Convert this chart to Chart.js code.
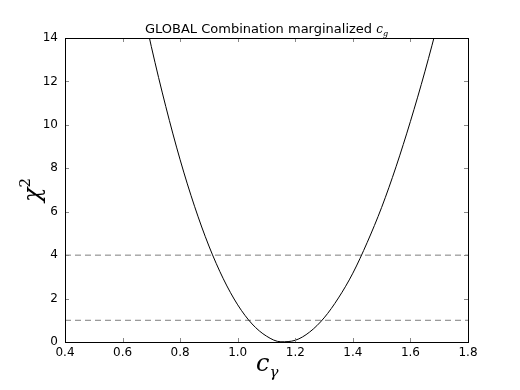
<!DOCTYPE html>
<html>
<head>
<meta charset="utf-8">
<script src="https://cdn.jsdelivr.net/npm/chart.js@4/dist/chart.umd.min.js"></script>
<style>
  body { margin: 0; background: #fff; }
</style>
</head>
<body>
<canvas id="chi2Chart" width="520" height="390"></canvas>
<script>
// profile scan of chi2 vs c_gamma
const cgValues   = [0.65, 0.70, 0.75, 0.80, 0.85, 0.90, 0.95, 1.00, 1.05, 1.10, 1.15, 1.20, 1.25, 1.30, 1.35, 1.40, 1.45, 1.50, 1.55, 1.60, 1.65, 1.70];
const chi2Values = [16.7, 13.6, 10.85, 8.39, 6.25, 4.42, 2.91, 1.71, 0.83, 0.27, 0.01, 0.08, 0.46, 1.11, 2.03, 3.17, 4.59, 6.2, 8.07, 10.16, 12.44, 14.92];
const sigmaLevels = [1, 4];
const xRange = [0.4, 1.8];
const yRange = [0, 14];

const curve = cgValues.map((c, i) => ({x: c, y: chi2Values[i]}));
const levelSets = sigmaLevels.map(v => ({
    data: [{x: xRange[0], y: v}, {x: xRange[1], y: v}],
    borderColor: '#7f7f7f',
    borderWidth: 1,
    borderDash: [6, 4],
    pointRadius: 0,
    fill: false
}));

const framePlugin = {
    id: 'frame',
    afterDraw(chart) {
        const ctx = chart.ctx;
        const a = chart.chartArea;
        const xs = chart.scales.x;
        const ys = chart.scales.y;
        ctx.save();
        // inward ticks
        ctx.strokeStyle = '#888';
        ctx.lineWidth = 1;
        ctx.beginPath();
        xs.ticks.forEach(t => {
            const px = Math.round(xs.getPixelForValue(t.value)) + 0.5;
            ctx.moveTo(px, a.bottom); ctx.lineTo(px, a.bottom - 4);
            ctx.moveTo(px, a.top); ctx.lineTo(px, a.top + 4);
        });
        ys.ticks.forEach(t => {
            const py = Math.round(ys.getPixelForValue(t.value)) + 0.5;
            ctx.moveTo(a.left, py); ctx.lineTo(a.left + 4, py);
            ctx.moveTo(a.right, py); ctx.lineTo(a.right - 4, py);
        });
        ctx.stroke();
        // box
        ctx.strokeStyle = '#000';
        ctx.strokeRect(Math.round(a.left) + 0.5, Math.round(a.top) + 0.5,
                       Math.round(a.right - a.left), Math.round(a.bottom - a.top));

        // title
        ctx.fillStyle = '#000';
        ctx.textBaseline = 'alphabetic';
        ctx.textAlign = 'left';
        const main = 'GLOBAL Combination marginalized ';
        ctx.font = '13px "DejaVu Sans"';
        const w1 = ctx.measureText(main).width;
        ctx.font = 'italic 12px "DejaVu Serif"';
        const w2 = ctx.measureText('c').width;
        ctx.font = 'italic 8px "DejaVu Serif"';
        const w3 = ctx.measureText('g').width;
        let tx = (a.left + a.right) / 2 - (w1 + w2 + w3) / 2;
        ctx.font = '13px "DejaVu Sans"';
        ctx.fillText(main, tx, 33);
        ctx.font = 'italic 12px "DejaVu Serif"';
        ctx.fillText('c', tx + w1, 33);
        ctx.font = 'italic 8px "DejaVu Serif"';
        ctx.fillText('g', tx + w1 + w2, 36);

        // x axis label c_gamma
        ctx.font = 'italic 24px "DejaVu Serif"';
        const cw = ctx.measureText('c').width;
        ctx.fillText('c', 256, 371);
        ctx.font = 'italic 15px "DejaVu Serif"';
        ctx.fillText('γ', 256 + cw, 377);

        // y axis label chi^2
        ctx.translate(40, 190);
        ctx.rotate(-Math.PI / 2);
        ctx.font = 'italic 24px "DejaVu Serif"';
        ctx.textAlign = 'left';
        const xw = ctx.measureText('χ').width;
        ctx.fillText('χ', -12, 0);
        ctx.font = '15px "DejaVu Serif"';
        ctx.fillText('2', -12 + xw, -10);
        ctx.restore();
    }
};

new Chart(document.getElementById('chi2Chart'), {
    type: 'line',
    data: {
        datasets: [
            {
                data: curve,
                borderColor: '#000',
                borderWidth: 1,
                pointRadius: 0,
                cubicInterpolationMode: 'monotone',
                fill: false
            },
            ...levelSets
        ]
    },
    options: {
        responsive: false,
        animation: false,
        layout: {padding: {top: 38, right: 52, bottom: 0, left: 0}},
        plugins: {legend: {display: false}, tooltip: {enabled: false}},
        scales: {
            x: {
                type: 'linear',
                min: xRange[0],
                max: xRange[1],
                grid: {display: false, drawTicks: false},
                border: {display: false},
                ticks: {
                    stepSize: 0.2,
                    padding: 4,
                    color: '#000',
                    font: {family: 'DejaVu Sans', size: 12},
                    maxRotation: 0,
                    callback: v => v.toFixed(1)
                },
                afterFit: s => { s.height = 48; }
            },
            y: {
                min: yRange[0],
                max: yRange[1],
                grid: {display: false, drawTicks: false},
                border: {display: false},
                ticks: {
                    stepSize: 2,
                    padding: 7,
                    color: '#000',
                    font: {family: 'DejaVu Sans', size: 12}
                },
                afterFit: s => { s.width = 65; }
            }
        }
    },
    plugins: [framePlugin]
});
</script>
</body>
</html>
